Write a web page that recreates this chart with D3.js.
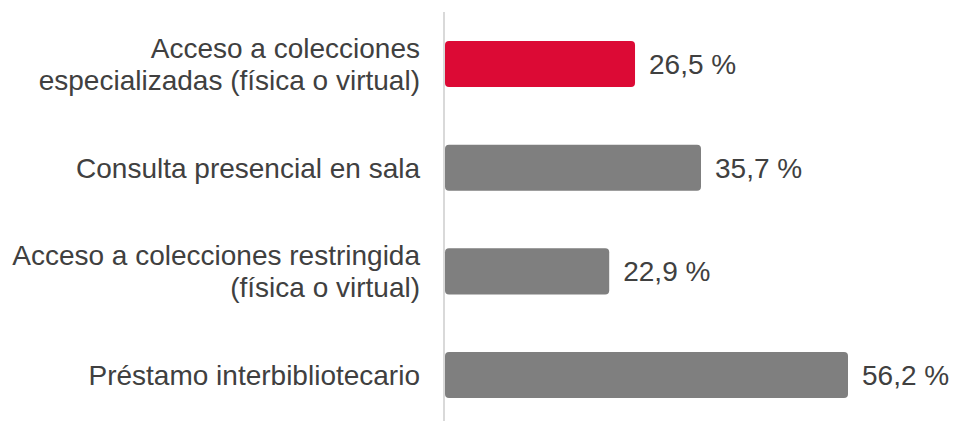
<!DOCTYPE html>
<html><head><meta charset="utf-8">
<script src="https://cdn.jsdelivr.net/npm/d3@7"></script>
<style>html,body{margin:0;padding:0;background:#fff;}svg{display:block;}</style>
</head><body>
<svg id="chart" width="958" height="421"></svg>
<script>
const categories = [
  ["Acceso a colecciones", "especializadas (física o virtual)"],
  ["Consulta presencial en sala"],
  ["Acceso a colecciones restringida", "(física o virtual)"],
  ["Préstamo interbibliotecario"]
];
const values = [26.5, 35.7, 22.9, 56.2];
const colors = ["#dc0a35", "#7f7f7f", "#7f7f7f", "#7f7f7f"];
const valueLabels = ["26,5 %", "35,7 %", "22,9 %", "56,2 %"];

const svg = d3.select("#chart");
const x0 = 445;
const x = d3.scaleLinear().domain([0, 56.2]).range([x0, 848]);
const y = d3.scaleBand().domain(d3.range(values.length)).range([12.2, 426.9])
  .paddingInner(0.556).paddingOuter(0.278);
const font = "'Liberation Sans', Arial, sans-serif";

svg.append("line").attr("x1", 444).attr("x2", 444).attr("y1", 12).attr("y2", 421)
  .attr("stroke", "#d9d9d9").attr("stroke-width", 2);

svg.selectAll("rect.bar").data(values).join("rect").attr("class", "bar")
  .attr("x", x0).attr("y", (d, i) => y(i))
  .attr("width", d => x(d) - x0).attr("height", y.bandwidth())
  .attr("rx", 4).attr("ry", 4)
  .attr("fill", (d, i) => colors[i]);

svg.selectAll("text.val").data(values).join("text").attr("class", "val")
  .attr("x", d => x(d) + 14).attr("y", (d, i) => y(i) + y.bandwidth() / 2)
  .attr("dy", "0.35em").attr("font-family", font).attr("font-size", 28)
  .attr("fill", "#404040").text((d, i) => valueLabels[i]);

const lh = 32;
categories.forEach((lines, i) => {
  const cy = y(i) + y.bandwidth() / 2;
  const t = svg.append("text").attr("text-anchor", "end")
    .attr("font-family", font).attr("font-size", 28).attr("fill", "#404040");
  lines.forEach((l, j) => {
    t.append("tspan").attr("x", 420)
      .attr("y", cy + (j - (lines.length - 1) / 2) * lh)
      .attr("dy", "0.35em").text(l);
  });
});
</script>
</body></html>
